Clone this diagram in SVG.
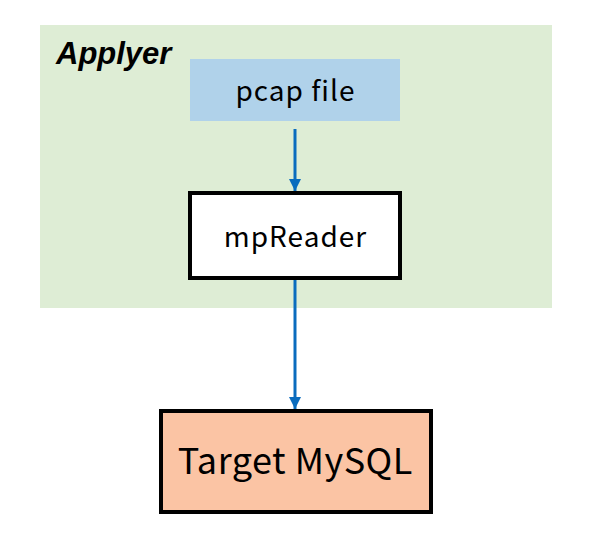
<svg xmlns="http://www.w3.org/2000/svg" width="597" height="554" viewBox="0 0 597 554">
<defs>
<style>
.lbl{font-family:"Noto Sans CJK JP","Noto Sans",sans-serif;fill:#000;text-anchor:middle}
.conn{stroke:#0A6CBE;stroke-width:3;fill:none}
</style>
<marker id="ah" markerUnits="userSpaceOnUse" markerWidth="12" markerHeight="12" refX="12" refY="6" orient="auto" viewBox="0 0 12 12">
<path d="M0,0 L12,6 L0,12 Z" fill="#0A6CBE"/>
</marker>
</defs>
<rect width="597" height="554" fill="#fff"/>
<g id="applyer">
<rect x="40" y="25" width="512" height="283" fill="#DEEDD5"/>
<text x="56" y="64" font-family="'Liberation Sans',Arial,sans-serif" font-weight="bold" font-style="italic" font-size="31" fill="#000">Applyer</text>
</g>
<g id="pcap">
<rect x="190" y="59" width="210" height="62" fill="#B0D2EA"/>
<text class="lbl" x="295.5" y="101" font-size="28" letter-spacing="1">pcap file</text>
</g>
<g id="mpreader">
<rect x="190" y="193" width="210" height="85" fill="#fff" stroke="#000" stroke-width="4"/>
<text class="lbl" x="295.5" y="247" font-size="28" letter-spacing="1">mpReader</text>
</g>
<g id="target">
<rect x="161" y="411" width="270" height="101" fill="#FBC4A4" stroke="#000" stroke-width="4"/>
<text class="lbl" x="295.3" y="474" font-size="36" letter-spacing="0.5">Target MySQL</text>
</g>
<g id="connectors">
<line class="conn" x1="295" y1="129" x2="295" y2="191" marker-end="url(#ah)"/>
<line class="conn" x1="295" y1="280" x2="295" y2="409" marker-end="url(#ah)"/>
</g>
</svg>
